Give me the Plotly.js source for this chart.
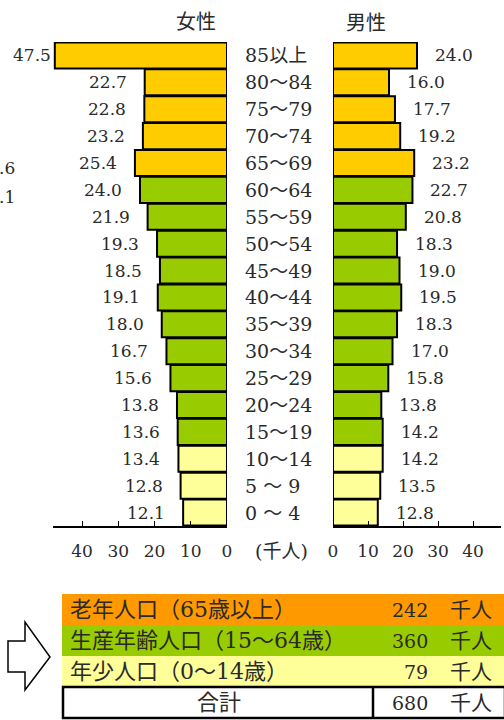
<!DOCTYPE html>
<html><head><meta charset="utf-8">
<script src="https://cdn.plot.ly/plotly-3.0.1.min.js"></script>
<style>html,body{margin:0;padding:0;background:#fff}#chart{width:504px;height:720px}</style>
</head><body><div id="chart"></div>
<script>
// ---- data ----
const ages = ["85以上","80～84","75～79","70～74","65～69","60～64","55～59","50～54","45～49","40～44","35～39","30～34","25～29","20～24","15～19","10～14","5 ～ 9","0 ～ 4"];
const female = [47.5,22.7,22.8,23.2,25.4,24.0,21.9,19.3,18.5,19.1,18.0,16.7,15.6,13.8,13.6,13.4,12.8,12.1];
const male   = [24.0,16.0,17.7,19.2,23.2,22.7,20.8,18.3,19.0,19.5,18.3,17.0,15.8,13.8,14.2,14.2,13.5,12.8];
const ageGroup = ["old","old","old","old","old","work","work","work","work","work","work","work","work","work","work","young","young","young"];
const tickVals = [0,10,20,30,40];
const sexTitles = ["女性","男性"];
const unitLabel = "(千人)";
const groupLabels = ["老年人口（65歳以上）","生産年齢人口（15～64歳）","年少人口（0～14歳）"];
const groupTotals = [242,360,79];
const totalLabel = "合計";
const totalValue = 680;
const unit = "千人";
const strayLabels = [".6",".1"];

// ---- styles ----
const W = 504, H = 720;
const px = x => x / W, py = y => 1 - y / H;
const barColors = {old:"#FFCC00", work:"#99CC00", young:"#FFFF99"};
const tableColors = ["#FF9900","#99CC00","#FFFF99"];
const FONT = "DejaVu Serif, Noto Sans CJK JP, serif";
const CJK = "Noto Sans CJK JP, sans-serif";
const TXT = "#2a2a2a";
const XMAX = 48;
const fDom = [53, 227], mDom = [333, 501];
const fScale = (fDom[1]-fDom[0]) / XMAX;
const NS = 17;

const colors = ageGroup.map(g => barColors[g]);

const traces = [
  {type:"bar", orientation:"h", y:ages, x:female, xaxis:"x", yaxis:"y",
   marker:{color:colors, line:{color:"#000", width:2}}, hoverinfo:"none"},
  {type:"bar", orientation:"h", y:ages, x:male, xaxis:"x2", yaxis:"y",
   marker:{color:colors, line:{color:"#000", width:2}}, hoverinfo:"none"}
];

const annotations = [];
female.forEach((v,i) => annotations.push({
  x:v, xref:"x", y:ages[i], yref:"y", text:v.toFixed(1), showarrow:false,
  xanchor:"right", yanchor:"middle", xshift:-Math.min(16,(XMAX-v)*fScale),
  font:{family:FONT, size:NS, color:TXT}}));
male.forEach((v,i) => annotations.push({
  x:v, xref:"x2", y:ages[i], yref:"y", text:v.toFixed(1), showarrow:false,
  xanchor:"left", yanchor:"middle", xshift:16,
  font:{family:FONT, size:NS, color:TXT}}));
ages.forEach(a => annotations.push({
  x:px(243), xref:"paper", y:a, yref:"y", text:a, showarrow:false,
  xanchor:"left", yanchor:"middle", font:{family:FONT, size:19, color:TXT}}));
annotations.push({x:px(196), y:py(20), xref:"paper", yref:"paper", text:sexTitles[0], showarrow:false,
  xanchor:"center", yanchor:"middle", font:{family:CJK, size:20, color:TXT}});
annotations.push({x:px(366), y:py(21), xref:"paper", yref:"paper", text:sexTitles[1], showarrow:false,
  xanchor:"center", yanchor:"middle", font:{family:CJK, size:20, color:TXT}});
annotations.push({x:px(281), y:py(551), xref:"paper", yref:"paper", text:unitLabel, showarrow:false,
  xanchor:"center", yanchor:"middle", font:{family:FONT, size:19, color:TXT}});
annotations.push({x:px(17), y:py(168), xref:"paper", yref:"paper", text:strayLabels[0], showarrow:false,
  xanchor:"right", yanchor:"middle", font:{family:FONT, size:NS, color:TXT}});
annotations.push({x:px(17), y:py(197), xref:"paper", yref:"paper", text:strayLabels[1], showarrow:false,
  xanchor:"right", yanchor:"middle", font:{family:FONT, size:NS, color:TXT}});

// table
const shapes = [];
const rowTop = 594, rowH = 31;
groupLabels.forEach((lab,i) => {
  const y0 = rowTop + i*rowH, y1 = y0 + rowH;
  shapes.push({type:"rect", xref:"paper", yref:"paper", x0:px(62), x1:px(504), y0:py(y1), y1:py(y0),
    fillcolor:tableColors[i], line:{width:0}, layer:"below"});
  const yc = py((y0+y1)/2);
  annotations.push({x:px(68), y:yc, xref:"paper", yref:"paper", text:lab, showarrow:false,
    xanchor:"left", yanchor:"middle", font:{family:FONT, size:22, color:TXT}});
  annotations.push({x:px(430), y:yc, xref:"paper", yref:"paper", text:String(groupTotals[i]), showarrow:false,
    xanchor:"right", yanchor:"middle", font:{family:FONT, size:19, color:TXT}});
  annotations.push({x:px(448), y:yc, xref:"paper", yref:"paper", text:unit, showarrow:false,
    xanchor:"left", yanchor:"middle", font:{family:FONT, size:21, color:TXT}});
});
const ty0 = rowTop + 3*rowH, ty1 = ty0 + rowH;
shapes.push({type:"rect", xref:"paper", yref:"paper", x0:px(63), x1:px(505), y0:py(ty1), y1:py(ty0),
  fillcolor:"#fff", line:{color:"#000", width:2.5}});
shapes.push({type:"line", xref:"paper", yref:"paper", x0:px(373), x1:px(373), y0:py(ty1), y1:py(ty0),
  line:{color:"#000", width:2.5}});
const tyc = py((ty0+ty1)/2);
annotations.push({x:px(219), y:tyc, xref:"paper", yref:"paper", text:totalLabel, showarrow:false,
  xanchor:"center", yanchor:"middle", font:{family:FONT, size:22, color:TXT}});
annotations.push({x:px(430), y:tyc, xref:"paper", yref:"paper", text:String(totalValue), showarrow:false,
  xanchor:"right", yanchor:"middle", font:{family:FONT, size:19, color:TXT}});
annotations.push({x:px(448), y:tyc, xref:"paper", yref:"paper", text:unit, showarrow:false,
  xanchor:"left", yanchor:"middle", font:{family:FONT, size:21, color:TXT}});
// arrow
const arrowPts = [[8,641],[25,641],[25,622],[50,657],[25,690],[25,672],[8,672]];
shapes.push({type:"path", xref:"paper", yref:"paper",
  path:"M " + arrowPts.map(p => px(p[0]) + "," + py(p[1])).join(" L ") + " Z",
  fillcolor:"#fff", line:{color:"#000", width:1.5}});

const axisCommon = {showline:true, linecolor:"#000", linewidth:1.5, ticks:"inside", ticklen:5,
  tickcolor:"#000", tickwidth:1, tickvals:tickVals, ticktext:tickVals.map(String),
  tickfont:{family:FONT, size:NS, color:TXT}, showgrid:false, zeroline:false, fixedrange:true,
  ticklabelstandoff:9};

const layout = {
  width:W, height:H, margin:{l:0,r:0,t:0,b:0}, paper_bgcolor:"#fff", plot_bgcolor:"rgba(0,0,0,0)",
  showlegend:false, barmode:"overlay", bargap:0.03,
  font:{family:FONT, color:TXT},
  xaxis:Object.assign({}, axisCommon, {domain:[px(fDom[0]), px(fDom[1])], range:[XMAX,0], anchor:"y"}),
  xaxis2:Object.assign({}, axisCommon, {domain:[px(mDom[0]), px(mDom[1])], range:[0,XMAX], anchor:"y"}),
  yaxis:{domain:[py(526), py(42)], type:"category", categoryorder:"array", categoryarray:ages,
    range:[ages.length-0.5, -0.5], showticklabels:false, showline:false, showgrid:false,
    zeroline:false, ticks:"", fixedrange:true, anchor:"x"},
  annotations:annotations, shapes:shapes
};
Plotly.newPlot("chart", traces, layout, {staticPlot:true, displayModeBar:false});
</script></body></html>
